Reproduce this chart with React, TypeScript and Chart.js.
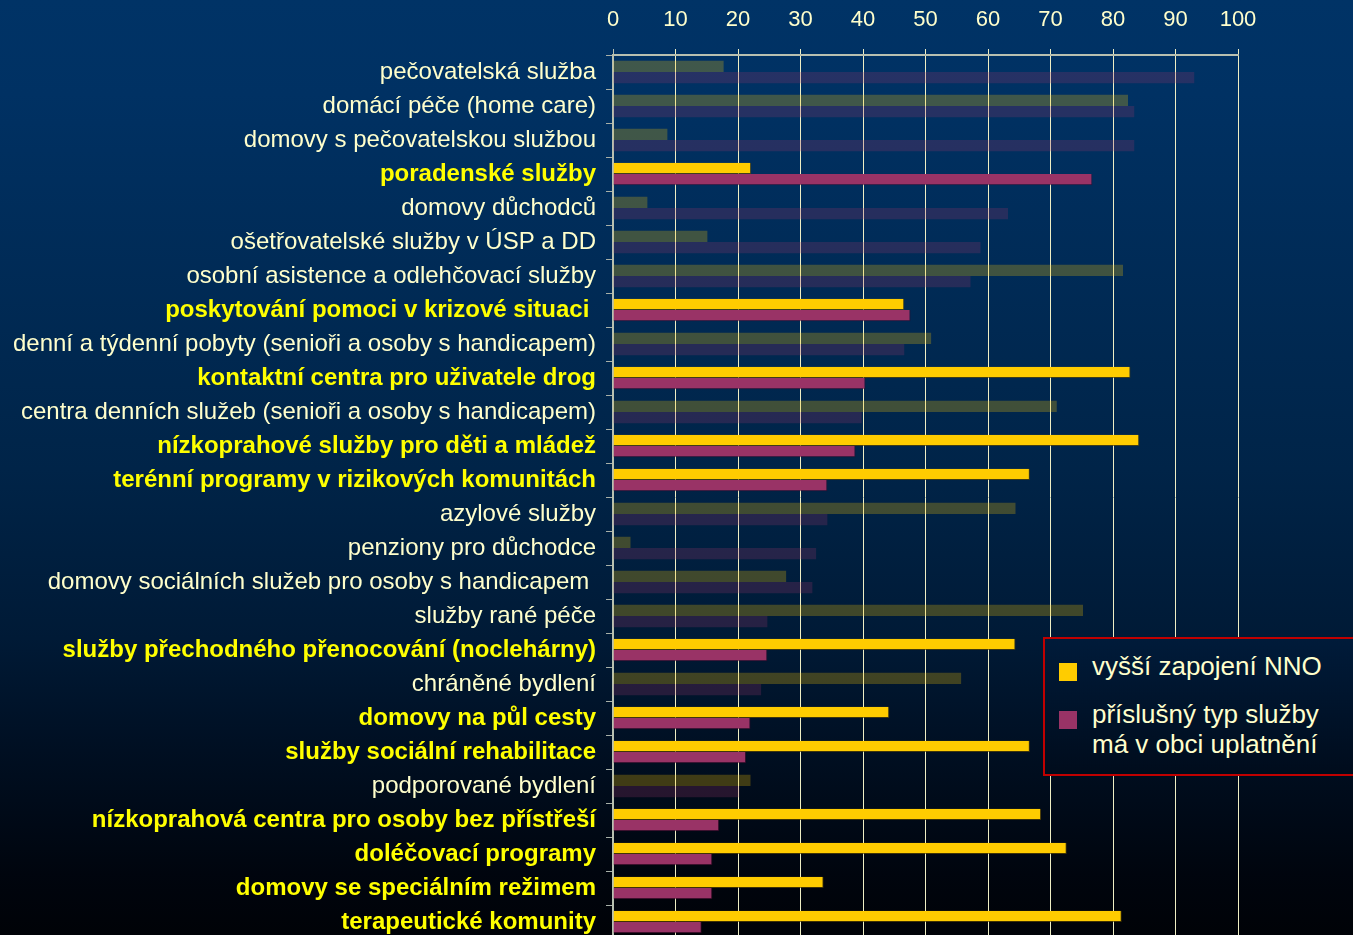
import { useEffect, useRef } from 'react';
import { Chart, registerables } from 'chart.js';

Chart.register(...registerables);

const categories = [
  'pečovatelská služba',
  'domácí péče (home care)',
  'domovy s pečovatelskou službou',
  'poradenské služby',
  'domovy důchodců',
  'ošetřovatelské služby v ÚSP a DD',
  'osobní asistence a odlehčovací služby',
  'poskytování pomoci v krizové situaci ',
  'denní a týdenní pobyty (senioři a osoby s handicapem)',
  'kontaktní centra pro uživatele drog',
  'centra denních služeb (senioři a osoby s handicapem)',
  'nízkoprahové služby pro děti a mládež',
  'terénní programy v rizikových komunitách',
  'azylové služby',
  'penziony pro důchodce',
  'domovy sociálních služeb pro osoby s handicapem ',
  'služby rané péče',
  'služby přechodného přenocování (noclehárny)',
  'chráněné bydlení',
  'domovy na půl cesty',
  'služby sociální rehabilitace',
  'podporované bydlení',
  'nízkoprahová centra pro osoby bez přístřeší',
  'doléčovací programy',
  'domovy se speciálním režimem',
  'terapeutické komunity',
];

const highlighted = [
  false, false, false, true, false, false, false, true, false, true,
  false, true, true, false, false, false, false, true, false, true,
  true, false, true, true, true, true,
];

const nnoValues = [
  17.7, 82.4, 8.7, 22.1, 5.5, 15.1, 81.6, 46.6, 50.9, 82.8,
  71.0, 84.2, 66.7, 64.4, 2.8, 27.7, 75.2, 64.4, 55.7, 44.2,
  66.7, 22.0, 68.5, 72.6, 33.7, 81.4,
];

const uplatneniValues = [
  93.0, 83.4, 83.4, 76.7, 63.2, 58.8, 57.2, 47.6, 46.6, 40.4,
  39.8, 38.8, 34.3, 34.3, 32.5, 31.9, 24.7, 24.7, 23.7, 22.0,
  21.3, 20.2, 17.0, 15.9, 15.9, 14.2,
];

const seriesNames = ['vyšší zapojení NNO', 'příslušný typ služby má v obci uplatnění'];
const legendLines = [['vyšší zapojení NNO'], ['příslušný typ služby', 'má v obci uplatnění']];

const FONT = '"Liberation Sans", Arial, sans-serif';
const YELLOW = '#FFCC00';
const MAGENTA = '#993366';
const CREAM = '#FFFFCC';

export default function App() {
  const canvasRef = useRef<HTMLCanvasElement | null>(null);

  useEffect(() => {
    if (!canvasRef.current) return;
    const chart = new Chart(canvasRef.current, {
      type: 'bar',
      data: {
        labels: categories,
        datasets: [
          {
            label: seriesNames[0],
            data: nnoValues,
            backgroundColor: highlighted.map((h) => (h ? YELLOW : 'rgba(255,204,0,0.25)')),
            borderColor: highlighted.map((h) => (h ? 'rgba(90,70,0,0.7)' : 'rgba(0,0,0,0)')),
            borderWidth: highlighted.map((h) => (h ? { bottom: 1, right: 1, top: 0, left: 0 } : 0)) as any,
            borderSkipped: false,
            categoryPercentage: 0.66,
            barPercentage: 1,
          },
          {
            label: seriesNames[1],
            data: uplatneniValues,
            backgroundColor: highlighted.map((h) => (h ? MAGENTA : 'rgba(153,51,102,0.25)')),
            borderColor: highlighted.map((h) => (h ? 'rgba(60,10,40,0.7)' : 'rgba(0,0,0,0)')),
            borderWidth: highlighted.map((h) => (h ? { bottom: 1, right: 1, top: 0, left: 0 } : 0)) as any,
            borderSkipped: false,
            categoryPercentage: 0.66,
            barPercentage: 1,
          },
        ],
      },
      options: {
        indexAxis: 'y',
        animation: false,
        responsive: true,
        maintainAspectRatio: false,
        layout: { padding: { top: 0, right: 115, bottom: 0, left: 0 } },
        plugins: {
          legend: { display: false },
          tooltip: { enabled: false },
        },
        scales: {
          x: {
            position: 'top',
            min: 0,
            max: 100,
            ticks: {
              stepSize: 10,
              color: CREAM,
              font: { family: FONT, size: 22 },
              padding: 16,
            },
            grid: {
              color: (ctx: any) => (ctx.index === 0 ? '#B8C0B0' : '#EEEEC4'),
              lineWidth: 1,
              tickLength: 6,
            },
            border: { color: '#B8C0B0', width: 2 },
            afterFit: (s: any) => {
              s.height = 55;
            },
          },
          y: {
            ticks: {
              autoSkip: false,
              padding: 10,
              color: (ctx: any) => (highlighted[ctx.index] ? '#FFFF00' : CREAM),
              font: (ctx: any) => ({
                family: FONT,
                size: 24,
                weight: highlighted[ctx.index] ? 'bold' : 'normal',
              }),
            },
            grid: {
              display: true,
              drawOnChartArea: false,
              offset: true,
              tickLength: 7,
              color: '#A8B0A8',
            },
            border: { color: '#B8C0B0', width: 2 },
            afterFit: (s: any) => {
              s.width = 613;
              s.paddingTop = 0;
              s.paddingBottom = 0;
            },
          },
        },
      },
    });
    return () => chart.destroy();
  }, []);

  const legendColors = [YELLOW, MAGENTA];

  return (
    <div
      style={{
        position: 'fixed',
        left: 0,
        top: 0,
        width: 1353,
        height: 939,
        background:
          'linear-gradient(to bottom, #003366 0%, #003163 10%, #002448 50%, #001a36 68%, #000f22 80%, #00050e 93%, #000207 100%)',
        overflow: 'hidden',
        fontFamily: FONT,
      }}
    >
      <canvas ref={canvasRef} style={{ position: 'absolute', left: 0, top: 0 }} />
      <div
        style={{
          position: 'absolute',
          left: 1043,
          top: 637,
          width: 330,
          height: 139,
          boxSizing: 'border-box',
          border: '2px solid #C00000',
          background: 'linear-gradient(to bottom, #001b3a, #000c1c)',
        }}
      >
        {legendLines.map((lines, i) => (
          <div key={i}>
            <div
              style={{
                position: 'absolute',
                left: 14,
                top: i === 0 ? 24 : 72,
                width: 18,
                height: 18,
                background: legendColors[i],
              }}
            />
            {lines.map((t, j) => (
              <div
                key={j}
                style={{
                  position: 'absolute',
                  left: 47,
                  top: (i === 0 ? 12 : 60) + j * 30,
                  color: CREAM,
                  fontSize: 26,
                  lineHeight: '30px',
                  whiteSpace: 'nowrap',
                }}
              >
                {t}
              </div>
            ))}
          </div>
        ))}
      </div>
    </div>
  );
}
